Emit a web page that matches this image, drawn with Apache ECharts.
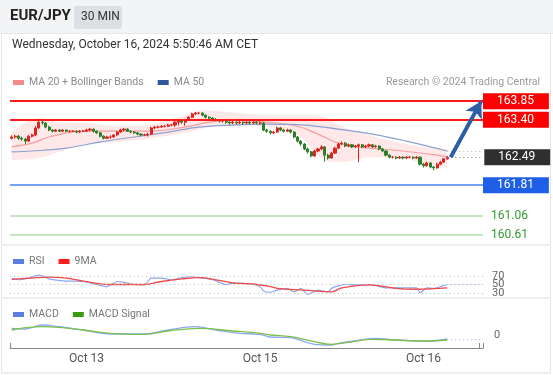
<!DOCTYPE html>
<html><head><meta charset="utf-8">
<script src="https://cdn.jsdelivr.net/npm/echarts@6/dist/echarts.min.js"></script>
<style>html,body{margin:0;padding:0;background:#fff}#c{width:553px;height:375px}</style>
</head><body><div id="c"></div>
<script>
// ---- DATA ----
// [open, close, low, high] per 30-minute candle
const candles = [
[162.95,162.98,162.92,163.02],[162.98,163.00,162.94,163.03],[163.00,162.95,162.91,163.03],[162.95,162.93,162.89,162.99],
[162.93,162.88,162.81,162.96],[162.88,163.00,162.86,163.03],[163.00,163.03,162.97,163.06],[163.03,163.20,163.00,163.24],
[163.20,163.34,163.18,163.38],[163.34,163.32,163.28,163.37],[163.32,163.22,163.19,163.34],[163.22,163.15,163.12,163.25],
[163.15,163.12,163.09,163.17],[163.12,163.15,163.10,163.17],[163.15,163.12,163.10,163.17],[163.12,163.15,163.10,163.17],
[163.15,163.12,163.10,163.16],[163.12,163.12,163.09,163.15],[163.12,163.12,163.10,163.14],[163.12,163.10,163.07,163.14],
[163.10,163.12,163.08,163.15],[163.12,163.12,163.10,163.15],[163.12,163.15,163.10,163.18],[163.15,163.17,163.12,163.20],
[163.17,163.12,163.09,163.19],[163.12,163.08,163.05,163.14],[163.08,163.00,162.97,163.10],[163.00,162.95,162.92,163.02],
[162.95,162.98,162.93,163.01],[162.98,162.98,162.94,163.02],[162.98,163.03,162.96,163.05],[163.03,163.10,163.01,163.13],
[163.10,163.15,163.08,163.18],[163.15,163.17,163.12,163.20],[163.17,163.12,163.10,163.19],[163.12,163.10,163.07,163.14],
[163.10,163.08,163.05,163.12],[163.08,163.05,163.02,163.10],[163.05,163.03,163.00,163.07],[163.03,163.03,163.00,163.06],
[163.03,163.05,162.99,163.08],[163.05,163.20,163.03,163.23],[163.20,163.22,163.17,163.25],[163.22,163.22,163.19,163.25],
[163.22,163.24,163.20,163.27],[163.24,163.24,163.21,163.27],[163.24,163.27,163.22,163.30],[163.27,163.27,163.24,163.30],
[163.27,163.34,163.22,163.38],[163.34,163.37,163.26,163.42],[163.37,163.34,163.30,163.40],[163.34,163.39,163.25,163.42],
[163.39,163.46,163.37,163.49],[163.46,163.54,163.44,163.57],[163.54,163.56,163.51,163.59],[163.56,163.56,163.53,163.59],
[163.56,163.51,163.48,163.58],[163.51,163.46,163.43,163.53],[163.46,163.44,163.41,163.48],[163.44,163.41,163.38,163.46],
[163.41,163.39,163.36,163.44],[163.39,163.37,163.33,163.41],[163.37,163.37,163.33,163.40],[163.37,163.34,163.30,163.39],
[163.34,163.32,163.28,163.37],[163.32,163.34,163.29,163.37],[163.34,163.32,163.28,163.36],[163.32,163.34,163.29,163.37],
[163.34,163.32,163.27,163.36],[163.32,163.34,163.29,163.37],[163.34,163.32,163.28,163.36],[163.32,163.34,163.29,163.37],
[163.34,163.32,163.28,163.36],[163.32,163.32,163.27,163.36],[163.32,163.15,163.12,163.34],[163.15,163.12,163.08,163.18],
[163.12,163.08,163.04,163.14],[163.08,163.10,163.05,163.13],[163.10,163.20,163.08,163.23],[163.20,163.15,163.12,163.22],
[163.15,163.12,163.09,163.18],[163.12,163.15,163.10,163.18],[163.15,163.10,163.07,163.17],[163.10,162.98,162.95,163.12],
[162.98,162.88,162.85,163.00],[162.88,162.81,162.77,162.90],[162.81,162.69,162.66,162.83],[162.69,162.62,162.58,162.72],
[162.62,162.52,162.49,162.64],[162.52,162.64,162.50,162.67],[162.64,162.69,162.61,162.72],[162.69,162.74,162.66,162.78],
[162.74,162.54,162.38,162.76],[162.54,162.47,162.43,162.57],[162.47,162.59,162.45,162.62],[162.59,162.71,162.57,162.74],
[162.71,162.81,162.69,162.84],[162.81,162.83,162.78,162.87],[162.83,162.76,162.73,162.86],[162.76,162.79,162.73,162.82],
[162.79,162.74,162.71,162.81],[162.74,162.76,162.71,162.79],[162.76,162.79,162.37,162.82],[162.79,162.74,162.71,162.81],
[162.74,162.76,162.71,162.79],[162.76,162.79,162.73,162.82],[162.79,162.74,162.71,162.81],[162.74,162.76,162.72,162.79],
[162.76,162.69,162.66,162.78],[162.69,162.64,162.61,162.71],[162.64,162.54,162.51,162.66],[162.54,162.49,162.46,162.56],
[162.49,162.49,162.46,162.52],[162.49,162.47,162.44,162.51],[162.47,162.49,162.45,162.52],[162.49,162.47,162.44,162.51],
[162.47,162.49,162.45,162.52],[162.49,162.49,162.46,162.52],[162.49,162.47,162.44,162.51],[162.47,162.49,162.45,162.52],
[162.49,162.32,162.29,162.51],[162.32,162.28,162.24,162.35],[162.28,162.35,162.26,162.38],[162.35,162.25,162.22,162.37],
[162.25,162.23,162.17,162.27],[162.23,162.32,162.21,162.35],[162.32,162.37,162.30,162.40],[162.37,162.45,162.35,162.47],
[162.45,162.49,162.43,162.52]
];
// [candle index, value]
const ma20 = [[0,162.74],[6,162.83],[11,162.98],[21,163.12],[29,163.12],[40,163.12],[51,163.22],[58,163.34],[65,163.39],
  [75,163.34],[84,163.24],[90,163.05],[96,162.83],[105,162.71],[115,162.64],[125,162.54],[128,162.49]];
const ma50 = [[0,162.62],[6,162.64],[16,162.71],[26,162.86],[36,162.98],[46,163.10],[55,163.22],[65,163.27],[75,163.29],
  [86,163.27],[96,163.17],[106,163.05],[116,162.88],[128,162.64]];
const bbUpper = [[0,163.08],[8,163.44],[14,163.34],[22,163.32],[31,163.24],[41,163.29],[51,163.51],[57,163.63],[64,163.58],
  [74,163.51],[84,163.51],[91,163.49],[96,163.27],[106,163.00],[116,162.81],[122,162.74],[128,162.69]];
const bbLower = [[0,162.42],[8,162.47],[14,162.62],[22,162.81],[31,162.86],[41,162.95],[51,163.08],[57,163.20],[64,163.27],
  [74,163.24],[84,163.03],[91,162.47],[96,162.37],[106,162.49],[116,162.45],[122,162.28],[128,162.23]];
const rsi = [[0,65],[2,61],[5,65],[8,72],[9,70],[11,63],[16,58],[21,57],[25,50],[28,45],[31,57],[33,55],[36,50],[39,49],
  [41,65],[44,65],[47,61],[50,66],[53,68],[55,66],[59,61],[63,50],[65,53],[71,50],[73,45],[74,35],[76,32],[78,37],[81,41],
  [83,33],[85,41],[87,27],[90,37],[93,33],[94,41],[96,47],[99,50],[102,49],[106,49],[110,42],[115,42],[119,42],[120,31],
  [122,42],[124,41],[126,45],[128,50]];
const rsiMA = [[0,62],[6,65],[11,67],[16,65],[21,58],[29,50],[39,50],[44,57],[50,63],[55,66],[60,61],[65,54],[72,50],
  [76,45],[78,41],[86,37],[94,33],[97,42],[105,49],[113,41],[119,39],[128,42]];
const macd = [[0,0.067],[4,0.06],[9,0.10],[14,0.083],[21,0.05],[29,0.01],[39,0.01],[46,0.05],[54,0.083],[60,0.05],
  [67,0.017],[73,0.007],[76,-0.02],[82,-0.027],[86,-0.067],[89,-0.093],[94,-0.10],[96,-0.083],[101,-0.06],[107,-0.033],
  [113,-0.05],[119,-0.057],[123,-0.06],[128,-0.04]];
const macdSignal = [[0,0.05],[9,0.083],[21,0.05],[29,0.017],[39,0.007],[46,0.04],[55,0.067],[65,0.04],[73,0.017],[76,0.0],
  [82,-0.017],[89,-0.067],[94,-0.093],[99,-0.073],[105,-0.043],[113,-0.05],[120,-0.06],[128,-0.05]];
const resistances = [163.85, 163.40];
const pivot = [161.81];
const supports = [161.06, 160.61];
const lastPrice = 162.49;
const rsiLevels = [70, 50, 30];
const tickIdx = [22, 73, 121];
const tickLabels = ['Oct 13', 'Oct 15', 'Oct 16'];
const padCount = 10;

// ---- BUILD ----
function halfHours(start, n){const out=[];let t=Date.parse(start);for(let k=0;k<n;k++){out.push(new Date(t).toISOString().slice(0,16));t+=1800000;}return out;}
const nCandles = candles.length;
const categories = halfHours('2024-10-11T12:00:00Z', 22).concat(halfHours('2024-10-13T22:30:00Z', nCandles - 22 + padCount));
const lastIdx = nCandles - 1, endIdx = categories.length - 1;
const bbDiff = bbUpper.map((p,k)=>[p[0], +(p[1]-bbLower[k][1]).toFixed(4)]);
const ma50Last = ma50[ma50.length-1][1];
const rsiLast = rsi[rsi.length-1][1];
const macdLast = macd[macd.length-1][1];

const FONT = 'Roboto, "Liberation Sans", Arial, sans-serif';
const chart = echarts.init(document.getElementById('c'), null, {renderer:'canvas'});

function priceTag(v, bg){
  return {yAxis:v, lineStyle:{color:bg==='#ff0000'?'#ff1a1a':'#4a7ff0', width: bg==='#ff0000'?2:1.5, type:'solid'},
    label:{show:true, position:'end', distance:0, formatter:v.toFixed(2), color:'#fff', backgroundColor:bg,
      padding:[2,15,1,14], fontSize:12, fontFamily:FONT, lineHeight:13}};
}
const mainMark = [];
resistances.forEach(v=>mainMark.push(priceTag(v,'#ff0000')));
pivot.forEach(v=>mainMark.push(priceTag(v,'#1f5fe8')));
supports.forEach(v=>mainMark.push({yAxis:v, lineStyle:{color:'#b9dcb3', width:1.5, type:'solid'},
  label:{show:true, position:'end', distance:8, formatter:v.toFixed(2), color:'#2f9a2f', fontSize:12, fontFamily:FONT}}));
mainMark.push([{coord:[lastIdx, ma50Last], lineStyle:{color:'#a9b8d8', width:1, type:[1,3]}, label:{show:false}}, {coord:[endIdx, ma50Last]}]);
mainMark.push([{coord:[lastIdx, lastPrice], lineStyle:{color:'#777', width:1, type:[1,3]},
  label:{show:true, position:'end', distance:3, formatter:lastPrice.toFixed(2), color:'#fff', backgroundColor:'#2f2f2f',
    padding:[2,15,1,14], fontSize:12, fontFamily:FONT, lineHeight:13}}, {coord:[endIdx, lastPrice]}]);
mainMark.push([{coord:[lastIdx+1, lastPrice], symbol:'none', lineStyle:{color:'#2e5fa6', width:4, type:'solid'}, label:{show:false}},
  {coord:[endIdx, resistances[0]], symbol:'arrow', symbolSize:[14,16]}]);

const rsiMark = rsiLevels.map(v=>({yAxis:v, lineStyle:{color:'#bbb', width:1, type:[1,3]},
  label:{show:true, position:'end', distance:9, formatter:String(v), color:'#666', fontSize:11, fontFamily:FONT}}));
rsiMark.push([{coord:[lastIdx, rsiLast], lineStyle:{color:'#93aef0', width:1, type:[1,3]}, label:{show:false}}, {coord:[endIdx, rsiLast]}]);

const gridL = 10, gridR = 70;
const option = {
  animation:false,
  textStyle:{fontFamily:FONT},
  title:{text:'Research © 2024 Trading Central', right:8, top:72, textStyle:{fontSize:10.5, color:'#9a9a9a', fontWeight:'normal', fontFamily:FONT}},
  legend:[
    {data:['MA 20 + Bollinger Bands','MA 50'], left:8, top:72, icon:'rect', itemWidth:11, itemHeight:5, itemGap:14,
      textStyle:{fontSize:10.5, color:'#8a8a8a', fontFamily:FONT}},
    {data:['RSI','9MA'], left:8, top:251, icon:'rect', itemWidth:11, itemHeight:5, itemGap:14,
      textStyle:{fontSize:10.5, color:'#777', fontFamily:FONT}},
    {data:['MACD','MACD Signal'], left:8, top:304, icon:'rect', itemWidth:11, itemHeight:5, itemGap:14,
      textStyle:{fontSize:10.5, color:'#777', fontFamily:FONT}}
  ],
  grid:[
    {left:gridL, right:gridR, top:90, height:155},
    {left:gridL, right:gridR, top:263, height:43},
    {left:gridL, right:gridR, top:318, height:30}
  ],
  xAxis:[0,1,2].map(g=>({type:'category', gridIndex:g, data:categories, boundaryGap:true,
    axisLine:{show:g===2, onZero:false, lineStyle:{color:'#888', width:1}},
    axisTick:{show:g===2, inside:true, length:5, lineStyle:{color:'#888'}, interval:(i)=> i===0 || i===endIdx},
    axisLabel:{show:g===2, color:'#555', fontSize:12, margin:5, fontFamily:FONT,
      interval:(i)=>tickIdx.includes(i), formatter:(v,i)=>{const k=tickIdx.indexOf(i);return k>=0?tickLabels[k]:'';}},
    splitLine:{show:false}})),
  yAxis:[
    {type:'value', gridIndex:0, min:160.36, max:164.12, show:false, scale:true},
    {type:'value', gridIndex:1, min:0, max:100, show:false},
    {type:'value', gridIndex:2, min:-0.13, max:0.17, interval:0.13, position:'right',
      axisLine:{show:false}, axisTick:{show:false}, splitLine:{show:false},
      axisLabel:{show:true, margin:11, color:'#666', fontSize:11, fontFamily:FONT, formatter:(v)=>Math.abs(v)<1e-9?'0':''}}
  ],
  series:[
    {name:'bbLow', type:'line', xAxisIndex:0, yAxisIndex:0, data:bbLower, stack:'bb', smooth:0.4, symbol:'none',
      lineStyle:{opacity:0}, silent:true, z:1},
    {name:'bbBand', type:'line', xAxisIndex:0, yAxisIndex:0, data:bbDiff, stack:'bb', smooth:0.4, symbol:'none',
      lineStyle:{opacity:0}, areaStyle:{color:'rgba(250,165,165,0.36)'}, silent:true, z:1},
    {name:'MA 20 + Bollinger Bands', type:'line', xAxisIndex:0, yAxisIndex:0, data:ma20, smooth:0.4, symbol:'none',
      itemStyle:{color:'#f48a8a'}, lineStyle:{color:'#f4a0a0', width:1.2}, z:2},
    {name:'MA 50', type:'line', xAxisIndex:0, yAxisIndex:0, data:ma50, smooth:0.4, symbol:'none',
      itemStyle:{color:'#2d5a9c'}, lineStyle:{color:'#8ba3cf', width:1.2}, z:2},
    {name:'price', type:'candlestick', xAxisIndex:0, yAxisIndex:0, data:candles, barWidth:2.6, z:3,
      itemStyle:{color:'#e0231f', color0:'#2c7d2c', borderColor:'#e0231f', borderColor0:'#2c7d2c', borderWidth:1},
      markLine:{symbol:'none', silent:true, animation:false, data:mainMark}},
    {name:'RSI', type:'line', xAxisIndex:1, yAxisIndex:1, data:rsi, symbol:'none', smooth:0.2,
      itemStyle:{color:'#5b7fe6'}, lineStyle:{color:'#8ea8f2', width:1.2}, z:2,
      markLine:{symbol:'none', silent:true, data:rsiMark}},
    {name:'9MA', type:'line', xAxisIndex:1, yAxisIndex:1, data:rsiMA, symbol:'none', smooth:0.4,
      itemStyle:{color:'#ff1e1e'}, lineStyle:{color:'#f24848', width:1.3}, z:3},
    {name:'MACD', type:'line', xAxisIndex:2, yAxisIndex:2, data:macd, symbol:'none', smooth:0.4,
      itemStyle:{color:'#5b7fe6'}, lineStyle:{color:'#8ea8f2', width:1.3}, z:2,
      markLine:{symbol:'none', silent:true, data:[[{coord:[lastIdx, macdLast], lineStyle:{color:'#93aef0', width:1, type:[1,3]}, label:{show:false}}, {coord:[endIdx, macdLast]}]]}},
    {name:'MACD Signal', type:'line', xAxisIndex:2, yAxisIndex:2, data:macdSignal, symbol:'none', smooth:0.4,
      itemStyle:{color:'#3c9a10'}, lineStyle:{color:'#7cc04c', width:1.3}, z:3}
  ],
  graphic:[
    {type:'rect', z:-10, shape:{x:0,y:0,width:553,height:33}, style:{fill:'#f3f4f5'}},
    {type:'rect', z:-10, shape:{x:0,y:33,width:553,height:1}, style:{fill:'#e4e6e8'}},
    {type:'rect', z:-10, shape:{x:1,y:33,width:1,height:340}, style:{fill:'#e4e6e8'}},
    {type:'rect', z:-10, shape:{x:550,y:33,width:1,height:340}, style:{fill:'#e4e6e8'}},
    {type:'rect', z:-10, shape:{x:1,y:244,width:550,height:2}, style:{fill:'#eceef0'}},
    {type:'rect', z:-10, shape:{x:1,y:297,width:550,height:2}, style:{fill:'#eceef0'}},
    {type:'rect', z:-10, shape:{x:1,y:372,width:550,height:2}, style:{fill:'#eceef0'}},
    {type:'text', left:10, top:9, style:{text:'EUR/JPY', font:'bold 15px '+FONT, fill:'#222'}},
    {type:'rect', shape:{x:74,y:6,width:48,height:23,r:2}, style:{fill:'#dcdfe3'}},
    {type:'text', left:81, top:11, style:{text:'30 MIN', font:'12px '+FONT, fill:'#333'}},
    {type:'text', left:12, top:39, style:{text:'Wednesday, October 16, 2024 5:50:46 AM CET', font:'12px '+FONT, fill:'#333'}}
  ]
};
chart.setOption(option);
</script></body></html>
